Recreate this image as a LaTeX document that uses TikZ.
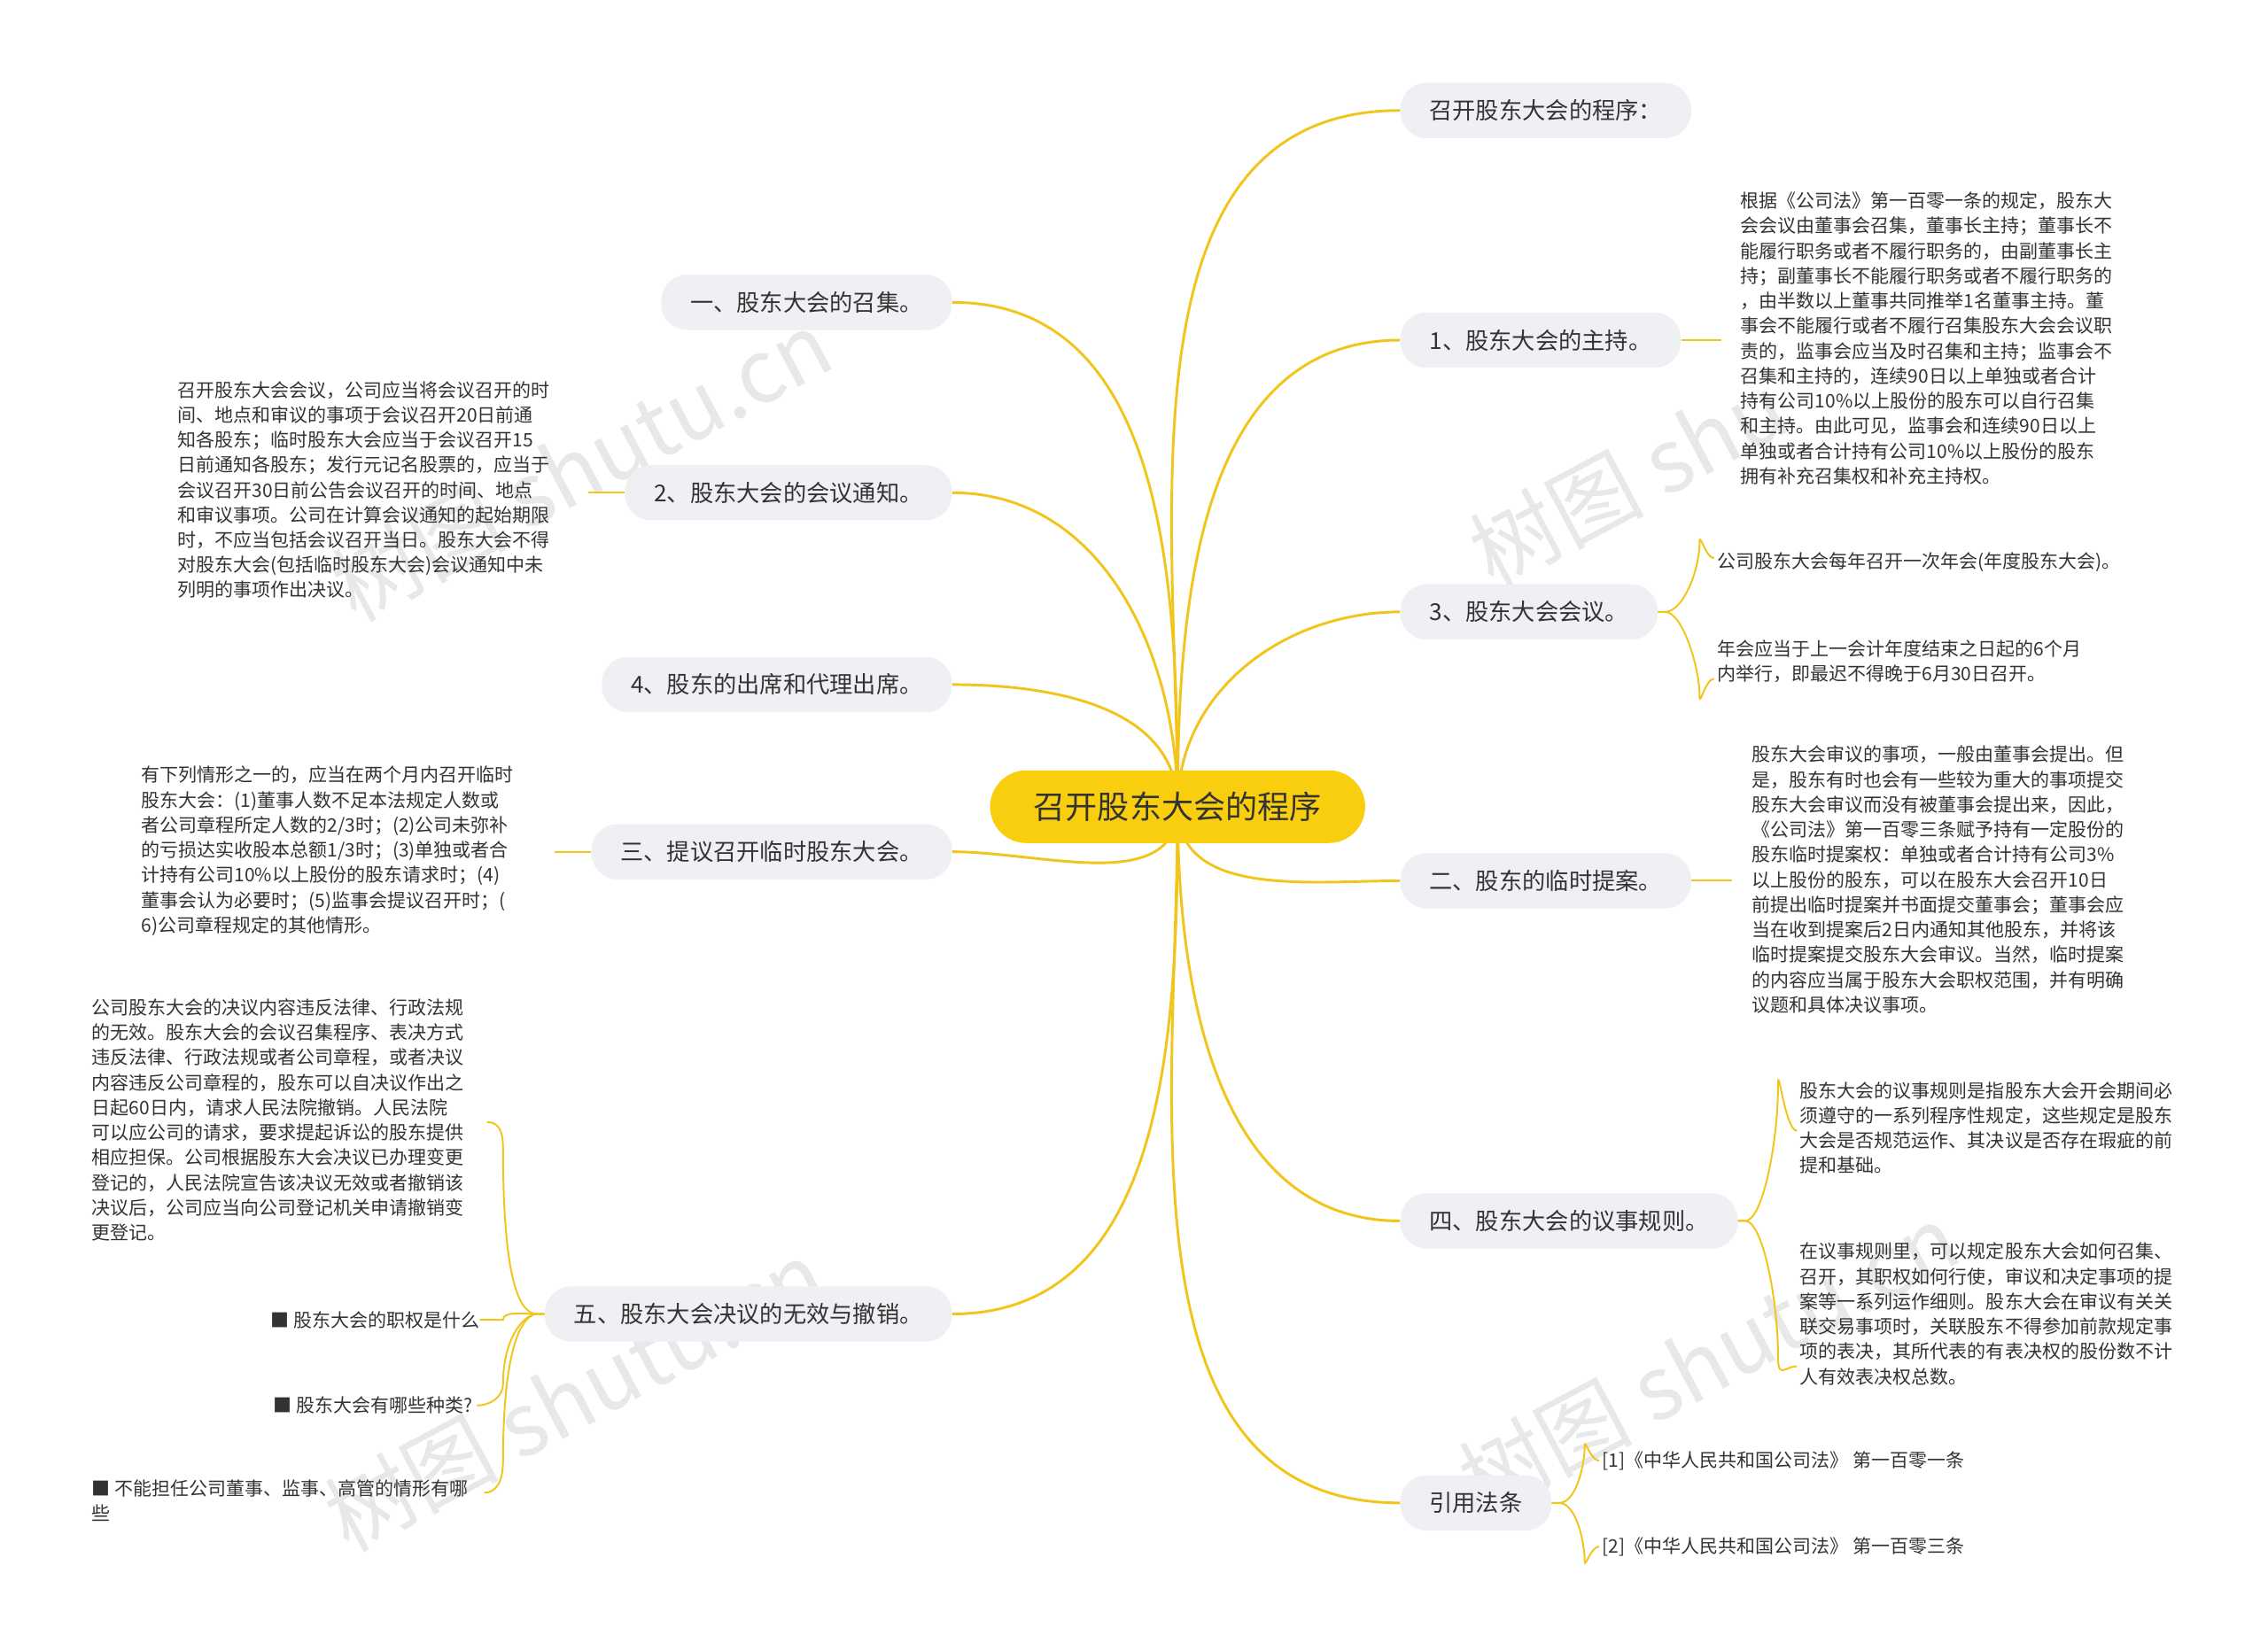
\documentclass[tikz,border=0pt]{standalone}
\usepackage{fontspec}
\setmainfont{Noto Sans CJK SC}
\usetikzlibrary{backgrounds}
\definecolor{ln}{HTML}{F2C51C}
\definecolor{boxg}{HTML}{EEF0F3}
\definecolor{cen}{HTML}{F8CE0E}
\definecolor{tx}{HTML}{333333}
\tikzset{
 mainbox/.style={fill=boxg,rounded corners=18pt,minimum height=38pt,inner xsep=20pt,font=\fontsize{16}{18}\selectfont,text=tx},
 para/.style={align=left,inner sep=0pt,font=\fontsize{12.8}{17.2}\selectfont,text=tx},
 link/.style={draw=ln,line width=1.8pt},
 wm/.style={text=gray!25,font=\fontsize{60}{60}\selectfont,rotate=28,opacity=0.7}
}
\begin{document}
\begin{tikzpicture}[x=1pt,y=-1pt]
\useasboundingbox (0,0) rectangle (1560,1130);
\node[wm] (w1) at (400,320) {树图 shutu.cn};
\node[wm] (w2) at (1120,330) {树图 shu};
\node[wm] (w3) at (395,960) {树图 shutu.cn};
\node[wm] (w4) at (1175,935) {树图 shutu.cn};

\node[fill=cen,rounded corners=25pt,minimum height=50pt,minimum width=258pt,font=\fontsize{22}{24}\selectfont,text=tx] (c) at (810,555) {召开股东大会的程序};

% right main nodes
\node[mainbox,anchor=west] (r0) at (963,76) {召开股东大会的程序：};
\node[mainbox,anchor=west] (r1) at (963,234) {1、股东大会的主持。};
\node[mainbox,anchor=west] (r2) at (963,421) {3、股东大会会议。};
\node[mainbox,anchor=west] (r3) at (963,606) {二、股东的临时提案。};
\node[mainbox,anchor=west] (r4) at (963,840) {四、股东大会的议事规则。};
\node[mainbox,anchor=west] (r5) at (963,1034) {引用法条};
% left main nodes
\node[mainbox,anchor=east] (l0) at (655,208) {一、股东大会的召集。};
\node[mainbox,anchor=east] (l1) at (655,339) {2、股东大会的会议通知。};
\node[mainbox,anchor=east] (l2) at (655,471) {4、股东的出席和代理出席。};
\node[mainbox,anchor=east] (l3) at (655,586) {三、提议召开临时股东大会。};
\node[mainbox,anchor=east] (l4) at (655,904) {五、股东大会决议的无效与撤销。};

% paragraphs
\node[para,anchor=north west] (t1) at (1197,132) {根据《公司法》第一百零一条的规定，股东大\\会会议由董事会召集，董事长主持；董事长不\\能履行职务或者不履行职务的，由副董事长主\\持；副董事长不能履行职务或者不履行职务的\\，由半数以上董事共同推举1名董事主持。董\\事会不能履行或者不履行召集股东大会会议职\\责的，监事会应当及时召集和主持；监事会不\\召集和主持的，连续90日以上单独或者合计\\持有公司10\%以上股份的股东可以自行召集\\和主持。由此可见，监事会和连续90日以上\\单独或者合计持有公司10\%以上股份的股东\\拥有补充召集权和补充主持权。};
\node[para,anchor=west] (t2a) at (1181,387) {公司股东大会每年召开一次年会(年度股东大会)。};
\node[para,anchor=west] (t2b) at (1181,455) {年会应当于上一会计年度结束之日起的6个月\\内举行，即最迟不得晚于6月30日召开。};
\node[para,anchor=north west] (t3) at (1205,513) {股东大会审议的事项，一般由董事会提出。但\\是，股东有时也会有一些较为重大的事项提交\\股东大会审议而没有被董事会提出来，因此，\\《公司法》第一百零三条赋予持有一定股份的\\股东临时提案权：单独或者合计持有公司3\%\\以上股份的股东，可以在股东大会召开10日\\前提出临时提案并书面提交董事会；董事会应\\当在收到提案后2日内通知其他股东，并将该\\临时提案提交股东大会审议。当然，临时提案\\的内容应当属于股东大会职权范围，并有明确\\议题和具体决议事项。};
\node[para,anchor=west] (t4a) at (1238,776) {股东大会的议事规则是指股东大会开会期间必\\须遵守的一系列程序性规定，这些规定是股东\\大会是否规范运作、其决议是否存在瑕疵的前\\提和基础。};
\node[para,anchor=west] (t4b) at (1238,904) {在议事规则里，可以规定股东大会如何召集、\\召开，其职权如何行使，审议和决定事项的提\\案等一系列运作细则。股东大会在审议有关关\\联交易事项时，关联股东不得参加前款规定事\\项的表决，其所代表的有表决权的股份数不计\\人有效表决权总数。};
\node[para,anchor=west] (t5a) at (1102,1005) {[1]《中华人民共和国公司法》 第一百零一条};
\node[para,anchor=west] (t5b) at (1102,1064) {[2]《中华人民共和国公司法》 第一百零三条};

\node[para,anchor=north west] (s1) at (122,262) {召开股东大会会议，公司应当将会议召开的时\\间、地点和审议的事项于会议召开20日前通\\知各股东；临时股东大会应当于会议召开15\\日前通知各股东；发行元记名股票的，应当于\\会议召开30日前公告会议召开的时间、地点\\和审议事项。公司在计算会议通知的起始期限\\时，不应当包括会议召开当日。股东大会不得\\对股东大会(包括临时股东大会)会议通知中未\\列明的事项作出决议。};
\node[para,anchor=north west] (s2) at (97,527) {有下列情形之一的，应当在两个月内召开临时\\股东大会：(1)董事人数不足本法规定人数或\\者公司章程所定人数的2/3时；(2)公司未弥补\\的亏损达实收股本总额1/3时；(3)单独或者合\\计持有公司10\%以上股份的股东请求时；(4)\\董事会认为必要时；(5)监事会提议召开时；(\\6)公司章程规定的其他情形。};
\node[para,anchor=north west] (s3) at (63,687) {公司股东大会的决议内容违反法律、行政法规\\的无效。股东大会的会议召集程序、表决方式\\违反法律、行政法规或者公司章程，或者决议\\内容违反公司章程的，股东可以自决议作出之\\日起60日内，请求人民法院撤销。人民法院\\可以应公司的请求，要求提起诉讼的股东提供\\相应担保。公司根据股东大会决议已办理变更\\登记的，人民法院宣告该决议无效或者撤销该\\决议后，公司应当向公司登记机关申请撤销变\\更登记。};
\node[para,anchor=east] (s4) at (330,908) {■ 股东大会的职权是什么};
\node[para,anchor=east] (s5) at (325,967) {■ 股东大会有哪些种类?};
\node[para,anchor=north west] (s6) at (63,1018) {■ 不能担任公司董事、监事、高管的情形有哪\\些};
\coordinate (s3e) at (335,772);
\coordinate (s6e) at (333,1027);

\begin{pgfonlayer}{background}
\fill[white] (0,0) rectangle (1560,1130);
\foreach \n in {r0,r1,r2} \draw[link] (c.center) to[out=90,in=180] (\n.west);
\foreach \n in {r3,r4,r5} \draw[link] (c.center) to[out=-90,in=180] (\n.west);
\foreach \n in {l0,l1,l2} \draw[link] (c.center) to[out=90,in=0] (\n.east);
\foreach \n in {l3,l4} \draw[link] (c.center) to[out=-90,in=0] (\n.east);
\end{pgfonlayer}
% leaf links
\draw[link,line width=1.2pt] (r1.east) -- ++(28,0);
\draw[link,line width=1.2pt] (r3.east) -- ++(28,0);
\draw[link,line width=1.2pt] (l1.west) -- ++(-25,0);
\draw[link,line width=1.2pt] (l3.west) -- ++(-25,0);
% brackets
\draw[link,line width=1.2pt] (r2.east) -- ++(5,0) .. controls +(12,0) and +(0,20) .. ([xshift=-12pt,yshift=14pt]t2a.west) .. controls +(0,-8) and +(-6,0) .. ([xshift=-2pt,yshift=3pt]t2a.west);
\draw[link,line width=1.2pt] (r2.east) -- ++(5,0) .. controls +(12,0) and +(0,-20) .. ([xshift=-12pt,yshift=-24pt]t2b.west) .. controls +(0,8) and +(-6,0) .. ([xshift=-2pt,yshift=-12pt]t2b.west);
\draw[link,line width=1.2pt] (r4.east) -- ++(5,0) .. controls +(12,0) and +(0,40) .. ([xshift=-15pt,yshift=30pt]t4a.west) .. controls +(0,-15) and +(-8,0) .. ([xshift=-2pt,yshift=-2pt]t4a.west);
\draw[link,line width=1.2pt] (r4.east) -- ++(5,0) .. controls +(12,0) and +(0,-40) .. ([xshift=-15pt,yshift=-30pt]t4b.west) .. controls +(0,15) and +(-8,0) .. ([xshift=-2pt,yshift=-36pt]t4b.west);
\draw[link,line width=1.2pt] (r5.east) -- ++(5,0) .. controls +(12,0) and +(0,12) .. ([xshift=-12pt,yshift=10pt]t5a.west) .. controls +(0,-6) and +(-6,0) .. ([xshift=-2pt]t5a.west);
\draw[link,line width=1.2pt] (r5.east) -- ++(5,0) .. controls +(12,0) and +(0,-12) .. ([xshift=-12pt,yshift=-10pt]t5b.west) .. controls +(0,6) and +(-6,0) .. ([xshift=-2pt]t5b.west);
\draw[link,line width=1.2pt] (l4.west) -- ++(-5,0) .. controls +(-10,0) and +(0,100) .. (346,790) .. controls +(0,-12) and +(8,0) .. (s3e);
\draw[link,line width=1.2pt] (l4.west) -- ++(-5,0) .. controls +(-10,0) and +(0,-6) .. (346,908) -- (s4.east);
\draw[link,line width=1.2pt] (l4.west) -- ++(-5,0) .. controls +(-10,0) and +(0,-30) .. (346,952) .. controls +(0,10) and +(8,0) .. ([xshift=3pt]s5.east);
\draw[link,line width=1.2pt] (l4.west) -- ++(-5,0) .. controls +(-10,0) and +(0,-80) .. (346,1005) .. controls +(0,15) and +(8,0) .. (s6e);
\end{tikzpicture}
\end{document}
